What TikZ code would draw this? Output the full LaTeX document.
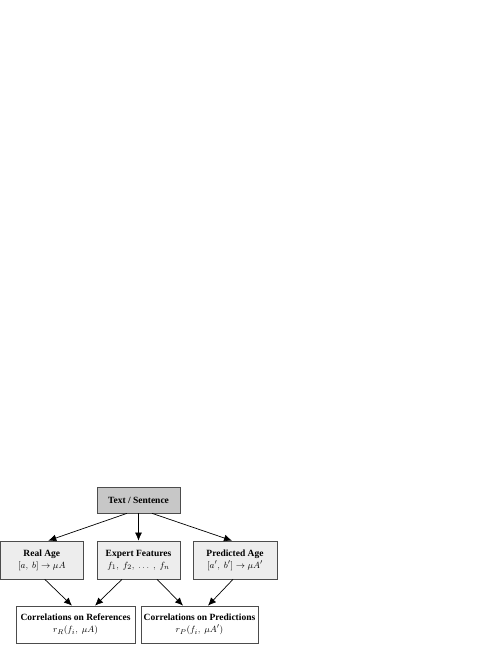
\documentclass[tikz,border=0pt]{standalone}
\usepackage{fontspec}
\setmainfont{Liberation Serif}
\usetikzlibrary{arrows.meta,positioning}
\begin{document}
\begin{tikzpicture}[x=1pt,y=1pt,
  box/.style={draw=black!70,line width=0.7pt,inner sep=0pt,align=center,font=\fontsize{9.5}{12}\selectfont},
  arr/.style={line width=0.7pt,-{Latex[length=8pt,width=7pt]}}]
\useasboundingbox (0,0) rectangle (498,645);
\node[box,fill=black!22,minimum width=83pt,minimum height=26pt] (top) at (138.5,145) {\textbf{Text / Sentence}};
\node[box,fill=black!7,minimum width=83pt,minimum height=38pt] (real) at (41.8,85) {\textbf{Real Age}\\$[a,\ b]\rightarrow \mu A$};
\node[box,fill=black!7,minimum width=83pt,minimum height=38pt] (expert) at (138.5,85) {\textbf{Expert Features}\\$f_1,\ f_2,\ \ldots\ ,\ f_n$};
\node[box,fill=black!7,minimum width=84pt,minimum height=38pt] (pred) at (235,85) {\textbf{Predicted Age}\\$[a',\ b']\rightarrow \mu A'$};
\node[box,fill=white,minimum width=119pt,minimum height=37pt] (corrR) at (75.5,20.5) {\textbf{Correlations on References}\\$r_R(f_i,\ \mu A)$};
\node[box,fill=white,minimum width=117pt,minimum height=37pt] (corrP) at (199.5,20.5) {\textbf{Correlations on Predictions}\\$r_P(f_i,\ \mu A')$};
\draw[arr] ([xshift=-11.5pt]top.south) -- ([xshift=6.5pt]real.north);
\draw[arr] (top.south) -- (expert.north);
\draw[arr] ([xshift=13.5pt]top.south) -- ([xshift=-3pt]pred.north);
\draw[arr] ([xshift=3pt]real.south) -- ([xshift=-3.5pt]corrR.north);
\draw[arr] ([xshift=-16.5pt]expert.south) -- ([xshift=19.5pt]corrR.north);
\draw[arr] ([xshift=18.5pt]expert.south) -- ([xshift=-16.5pt]corrP.north);
\draw[arr] ([xshift=-2pt]pred.south) -- ([xshift=8.5pt]corrP.north);
\end{tikzpicture}
\end{document}
